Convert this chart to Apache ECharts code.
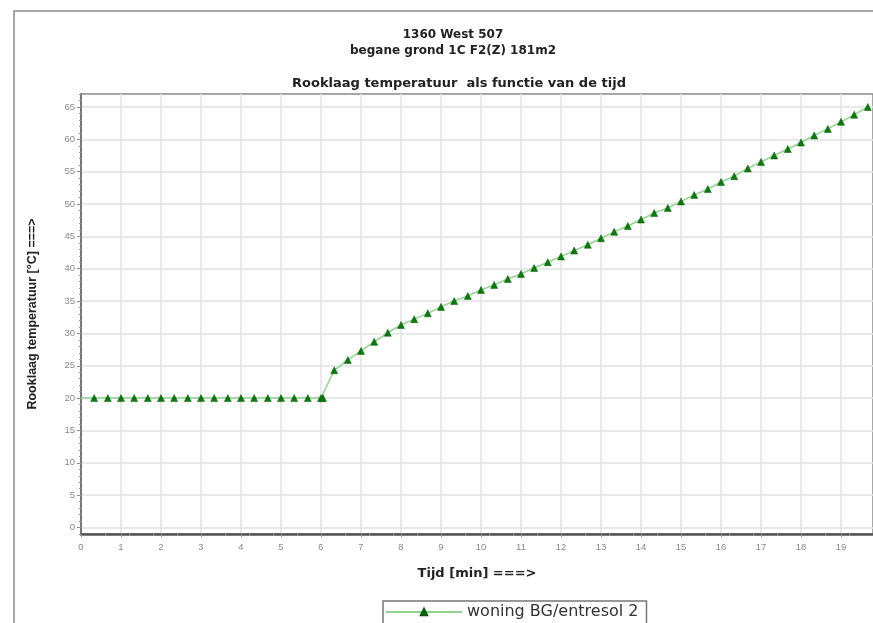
<!DOCTYPE html>
<html>
<head>
<meta charset="utf-8">
<script src="https://cdn.jsdelivr.net/npm/echarts@6/dist/echarts.min.js"></script>
<style>
  html, body { margin: 0; padding: 0; background: #fff; }
  #chart { width: 873px; height: 623px; }
</style>
</head>
<body>
<div id="chart"></div>
<script>
// Time in minutes for each sample
const minutes = [0, 0.33, 0.67, 1, 1.33, 1.67, 2, 2.33, 2.67, 3, 3.33, 3.67, 4, 4.33, 4.67,
  5, 5.33, 5.67, 6, 6.05, 6.33, 6.67, 7, 7.33, 7.67, 8, 8.33, 8.67, 9, 9.33, 9.67,
  10, 10.33, 10.67, 11, 11.33, 11.67, 12, 12.33, 12.67, 13, 13.33, 13.67, 14, 14.33, 14.67,
  15, 15.33, 15.67, 16, 16.33, 16.67, 17, 17.33, 17.67, 18, 18.33, 18.67, 19, 19.33, 19.67];

// Smoke layer temperature [°C]
const temps = [20, 20, 20, 20, 20, 20, 20, 20, 20, 20, 20, 20, 20, 20, 20,
  20, 20, 20, 20, 20, 24.3, 25.9, 27.3, 28.7, 30.1, 31.3, 32.2, 33.1, 34.1, 35.0, 35.8,
  36.7, 37.5, 38.4, 39.2, 40.1, 41.0, 41.9, 42.8, 43.7, 44.7, 45.7, 46.6, 47.6, 48.6, 49.4,
  50.4, 51.4, 52.3, 53.4, 54.3, 55.5, 56.5, 57.5, 58.5, 59.5, 60.6, 61.6, 62.7, 63.8, 65.0];

const xTicks = [0, 1, 2, 3, 4, 5, 6, 7, 8, 9, 10, 11, 12, 13, 14, 15, 16, 17, 18, 19];
const yTicks = [0, 5, 10, 15, 20, 25, 30, 35, 40, 45, 50, 55, 60, 65];
const yMinorTicks = [];
for (let v = -1; v <= 67; v++) yMinorTicks.push(v);

const seriesName = 'woning BG/entresol 2';

const points = minutes.map((t, i) => {
  // first sample is drawn without a marker
  return i === 0 ? { value: [t, temps[i]], symbol: 'none' } : [t, temps[i]];
});

const chart = echarts.init(document.getElementById('chart'), null, { renderer: 'canvas' });

const wideFont = 'DejaVu Sans, Verdana, sans-serif';
const labelStyle = { color: '#8a8a8a', fontSize: 9.5, fontFamily: 'Liberation Sans, Arial, sans-serif' };

chart.setOption({
  animation: false,
  backgroundColor: '#fff',
  textStyle: { fontFamily: 'Liberation Sans, Arial, sans-serif' },
  graphic: [{
    type: 'rect',
    shape: { x: 14, y: 11, width: 900, height: 700 },
    style: { fill: 'none', stroke: '#8c8c8c', lineWidth: 1.5 },
    z: -1
  }],
  title: [{
    text: '1360 West 507\nbegane grond 1C F2(Z) 181m2',
    left: 448, textAlign: 'center', top: 22,
    textStyle: { fontSize: 12, fontWeight: 'bold', color: '#222', lineHeight: 16, fontFamily: wideFont }
  }, {
    text: 'Rooklaag temperatuur  als functie van de tijd',
    left: 454, textAlign: 'center', top: 72,
    textStyle: { fontSize: 13, fontWeight: 'bold', color: '#222', fontFamily: wideFont }
  }],
  legend: {
    data: [seriesName],
    left: 383, top: 601,
    padding: [3, 8, 12, 2],
    itemWidth: 76, itemHeight: 8, itemGap: 6,
    borderColor: '#777', borderWidth: 1.5,
    backgroundColor: '#fff',
    textStyle: { fontSize: 16, color: '#333', fontFamily: wideFont }
  },
  grid: {
    left: 81, top: 94, right: 0, bottom: 89,
    show: true, borderColor: '#8a8a8a', borderWidth: 1.5
  },
  xAxis: [{
    type: 'value', min: 0, max: 19.8,
    name: 'Tijd [min] ===>', nameLocation: 'middle', nameGap: 33,
    nameTextStyle: { fontSize: 13, fontWeight: 'bold', color: '#222', fontFamily: wideFont },
    axisLine: { onZero: false, lineStyle: { color: '#555', width: 2.5 } },
    axisTick: { customValues: xTicks, length: 3, lineStyle: { color: '#888' } },
    minorTick: { show: true, splitNumber: 5, length: 2, lineStyle: { color: '#999' } },
    axisLabel: Object.assign({ customValues: xTicks, margin: 8 }, labelStyle),
    splitLine: { show: true, lineStyle: { color: '#e2e2e2', width: 1.5 } }
  }],
  yAxis: [{
    type: 'value', min: -1, max: 67,
    name: 'Rooklaag temperatuur [°C] ===>', nameLocation: 'middle', nameGap: 42,
    nameTextStyle: { fontSize: 12.5, fontWeight: 'bold', color: '#222' },
    axisLine: { show: true, lineStyle: { color: '#777', width: 2 } },
    axisTick: { customValues: yTicks, length: 4, lineStyle: { color: '#888' } },
    axisLabel: Object.assign({ customValues: yTicks, margin: 6 }, labelStyle),
    splitLine: { show: true, lineStyle: { color: '#e2e2e2', width: 1.5 } }
  }, {
    type: 'value', min: -1, max: 67, position: 'left',
    axisLine: { show: false },
    axisTick: { customValues: yMinorTicks, length: 2, lineStyle: { color: '#999' } },
    axisLabel: { show: false },
    splitLine: { show: false }
  }],
  series: [{
    name: seriesName,
    type: 'line',
    data: points,
    symbol: 'triangle',
    symbolSize: 7,
    lineStyle: { color: '#8fd48f', width: 1.5 },
    itemStyle: { color: '#0a7a0a', borderColor: '#0a5a0a', borderWidth: 0.5 },
    clip: false
  }]
});
</script>
</body>
</html>
